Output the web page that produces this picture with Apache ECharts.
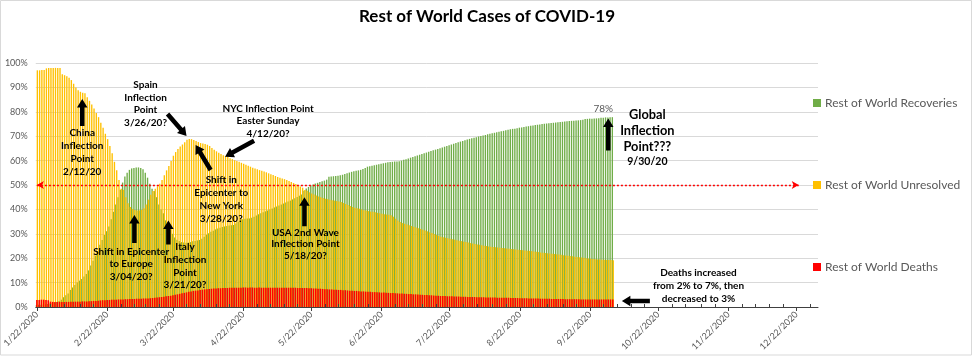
<!DOCTYPE html>
<html>
<head>
<meta charset="utf-8">
<script src="https://cdn.jsdelivr.net/npm/echarts@6/dist/echarts.min.js"></script>
<style>html,body{margin:0;padding:0;background:#fff}#c{width:974px;height:357px}</style>
</head>
<body>
<div id="c"></div>
<script>
// Daily shares (%) from 1/22/2020 to 10/2/2020, each drawn as a bar from 0
const recovered = [
 0.8,0.9,0.9,1.0,1.1,1.2,1.4,1.6,1.8,2.1,
 2.5,3.0,4.0,4.8,5.5,7.0,8.0,9.0,10.0,10.8,
 11.5,12.5,13.5,15.0,17.0,19.0,21.0,23.0,25.5,27.5,
 29.5,31.0,33.0,36.0,39.0,42.0,45.0,48.0,51.0,53.5,
 55.0,56.2,56.8,57.0,57.2,57.2,57.0,56.5,55.0,53.0,
 50.5,48.5,47.5,45.0,42.0,40.0,38.4,35.5,33.0,31.6,
 30.0,28.5,27.6,27.0,26.6,26.4,26.3,26.4,26.6,26.9,
 27.1,27.3,27.5,28.0,28.8,29.6,30.2,30.8,31.3,31.8,
 32.2,32.5,32.8,33.0,33.2,33.4,33.5,33.6,34.2,34.9,
 35.7,36.0,36.2,36.3,36.3,36.6,37.0,37.5,38.0,38.4,
 38.8,39.2,39.6,40.0,40.4,40.8,41.2,41.6,42.0,42.4,
 42.8,43.2,43.6,44.1,44.6,45.1,45.6,46.1,47.6,48.6,
 49.2,49.8,50.2,50.6,50.9,51.2,51.5,51.8,52.2,53.4,
 53.5,53.6,53.7,53.8,54.0,54.2,54.5,54.8,55.1,55.4,
 55.6,55.8,56.0,56.2,56.6,57.0,57.5,57.7,57.9,58.1,
 58.3,58.5,58.7,58.9,59.1,59.3,59.4,59.5,59.6,59.6,
 59.7,60.0,60.3,60.6,60.9,61.2,61.5,61.8,62.1,62.4,
 62.7,63.0,63.3,63.6,63.9,64.2,64.5,64.8,65.1,65.4,
 65.7,66.0,66.3,66.6,66.9,67.2,67.5,67.8,68.0,68.3,
 68.6,68.9,69.2,69.4,69.6,69.9,70.1,70.3,70.5,70.8,
 71.0,71.2,71.4,71.6,71.8,72.0,72.2,72.4,72.6,72.8,
 73.0,73.1,73.3,73.5,73.6,73.8,74.0,74.1,74.3,74.4,
 74.6,74.7,74.8,75.0,75.1,75.2,75.3,75.4,75.5,75.6,
 75.7,75.8,75.9,76.0,76.1,76.2,76.3,76.3,76.4,76.5,
 76.6,76.7,77.0,77.1,77.2,77.2,77.3,77.3,77.4,77.6,
 77.6,77.7,77.7,77.8,77.8
];
const unresolved = [
 97.0,97.0,97.1,97.1,97.8,97.9,98.0,98.0,98.0,98.0,
 97.9,95.4,95.0,94.6,94.0,93.0,91.5,90.0,88.8,88.2,
 87.8,87.6,86.0,84.5,83.0,81.4,79.5,77.8,75.5,73.5,
 71.0,68.8,66.0,63.0,59.5,56.0,52.0,48.5,48.0,45.0,
 42.5,41.0,40.2,39.8,39.6,39.6,39.8,40.5,42.0,44.0,
 46.0,47.5,48.5,49.5,50.5,52.0,54.0,56.0,57.8,59.8,
 62.0,63.5,64.8,65.8,66.6,67.5,68.5,68.9,68.8,68.4,
 68.0,67.6,67.2,67.0,66.8,66.5,66.0,65.2,64.4,63.8,
 63.2,62.7,62.2,61.9,61.6,61.0,60.6,60.2,59.8,59.5,
 59.1,58.7,58.3,57.9,57.5,57.1,56.8,56.5,56.1,55.8,
 55.5,55.2,54.8,54.4,54.1,53.7,53.3,53.0,52.7,52.4,
 52.0,51.6,51.2,50.8,50.4,49.9,49.4,48.9,48.0,47.6,
 47.0,46.5,46.1,45.7,45.3,45.0,44.7,44.4,44.2,44.0,
 43.8,43.6,43.4,43.2,43.0,42.6,42.2,41.8,41.4,41.0,
 40.7,40.5,40.3,40.0,39.7,39.5,39.3,39.1,39.0,38.8,
 38.6,38.4,38.2,38.0,37.9,37.8,37.6,37.0,36.2,35.4,
 34.8,34.4,34.1,33.8,33.5,33.2,32.9,32.6,32.3,32.0,
 31.7,31.4,31.0,30.6,30.3,29.9,29.5,29.2,28.8,28.6,
 28.4,28.2,28.0,27.8,27.6,27.4,27.2,27.0,26.8,26.6,
 26.4,26.2,26.0,25.8,25.6,25.5,25.3,25.1,25.0,24.8,
 24.7,24.6,24.5,24.4,24.3,24.2,24.1,24.0,23.9,23.8,
 23.7,23.6,23.5,23.4,23.3,23.2,23.1,23.0,22.9,22.7,
 22.6,22.5,22.3,22.2,22.1,22.0,21.9,21.8,21.7,21.6,
 21.5,21.4,21.2,21.1,21.0,20.9,20.8,20.6,20.5,20.4,
 20.3,20.2,20.0,19.9,19.8,19.7,19.6,19.5,19.5,19.4,
 19.4,19.3,19.3,19.3,19.2
];
const deaths = [
 2.9,2.9,3.0,3.0,2.9,2.8,2.2,2.1,2.1,2.1,
 2.1,2.1,2.1,2.1,2.1,2.2,2.2,2.2,2.2,2.2,
 2.3,2.3,2.3,2.4,2.4,2.5,2.5,2.6,2.7,2.8,
 2.8,2.9,2.9,3.0,3.0,3.0,3.1,3.1,3.1,3.2,
 3.2,3.3,3.3,3.3,3.4,3.4,3.4,3.5,3.5,3.5,
 3.6,3.7,3.8,3.9,4.0,4.1,4.2,4.4,4.5,4.6,
 4.8,5.0,5.2,5.4,5.6,5.8,6.0,6.2,6.4,6.6,
 6.7,6.8,7.0,7.1,7.2,7.3,7.4,7.5,7.6,7.6,
 7.7,7.7,7.8,7.8,7.8,7.9,7.9,7.9,7.9,7.9,
 7.9,8.0,8.0,7.9,8.0,8.0,7.9,7.9,8.0,7.9,
 7.9,7.9,7.9,7.9,7.9,7.9,7.9,7.9,7.9,7.9,
 7.9,7.9,7.9,7.9,7.9,7.8,7.8,7.8,7.8,7.8,
 7.7,7.7,7.6,7.6,7.5,7.5,7.4,7.3,7.3,7.2,
 7.2,7.1,7.1,7.0,7.0,6.9,6.9,6.8,6.7,6.7,
 6.6,6.6,6.5,6.4,6.4,6.3,6.3,6.2,6.1,6.1,
 6.0,6.0,5.9,5.9,5.8,5.8,5.7,5.7,5.6,5.6,
 5.5,5.5,5.4,5.4,5.3,5.3,5.2,5.2,5.1,5.0,
 5.0,4.9,4.9,4.8,4.8,4.7,4.6,4.6,4.5,4.5,
 4.5,4.4,4.4,4.4,4.3,4.3,4.3,4.2,4.2,4.2,
 4.1,4.1,4.1,4.1,4.0,4.0,4.0,4.0,3.9,3.9,
 3.9,3.9,3.9,3.8,3.8,3.8,3.8,3.8,3.8,3.7,
 3.7,3.7,3.7,3.6,3.6,3.6,3.6,3.5,3.5,3.5,
 3.5,3.5,3.4,3.4,3.4,3.4,3.4,3.3,3.3,3.3,
 3.3,3.3,3.3,3.2,3.2,3.2,3.2,3.2,3.2,3.2,
 3.1,3.1,3.1,3.1,3.1,3.1,3.1,3.1,3.1,3.1,
 3.1,3.1,3.1,3.1,3.1
];
const seriesNames = ['Rest of World Recoveries','Rest of World Unresolved','Rest of World Deaths'];
const seriesColors = ['#70AD47','#FFC000','#FF0000'];
const axisStart = [2020, 0, 22];   // 1/22/2020
const axisDayCount = 345;          // through 12/31/2020
const recoveryLabelDate = '9/28/2020';
const refLine = {value: 50, from: '1/22/2020', to: '12/23/2020'};

const categories = [];
for (let i = 0; i < axisDayCount; i++) {
  const dt = new Date(Date.UTC(axisStart[0], axisStart[1], axisStart[2] + i));
  categories.push((dt.getUTCMonth()+1) + '/' + dt.getUTCDate() + '/' + dt.getUTCFullYear());
}
const isMajor = (v) => v.split('/')[1] === '22';
const majors = [];
categories.forEach((c, i) => { if (isMajor(c)) majors.push(i); });
const minorSet = new Set();
for (let m = 0; m < majors.length; m++) {
  const a = majors[m];
  const b = m + 1 < majors.length ? majors[m+1] : a + 30.5;
  for (let k = 1; k <= 4; k++) {
    const idx = a + Math.round(k * (b - a) / 5);
    if (idx < axisDayCount) minorSet.add(idx);
  }
}

const labelIdx = categories.indexOf(recoveryLabelDate);
const recData = recovered.map((v, i) => i === labelIdx ? {
  value: v,
  label: {show: true, position: 'top', distance: 4, color: '#595959', fontSize: 10, fontFamily: 'Lato',
          formatter: (p) => Math.round(p.value) + '%'}
} : v);

const FONT = 'Lato';
const legendTops = [97, 179, 261];

const option = {
  animation: false,
  textStyle: {fontFamily: FONT},
  title: {
    text: 'Rest of World Cases of COVID-19', left: 'center', top: 8, padding: 0,
    textStyle: {fontFamily: FONT, fontWeight: 'bold', fontSize: 17, color: '#000'}
  },
  legend: seriesNames.map((n, i) => ({
    data: [n], left: 813, top: legendTops[i], padding: 0, orient: 'vertical',
    itemWidth: 8, itemHeight: 8, itemGap: 4, icon: 'rect', selectedMode: false,
    textStyle: {color: '#595959', fontSize: 12, fontFamily: FONT, padding: [0,0,0,-1]}
  })),
  grid: {left: 34, right: 156, top: 63, bottom: 50},
  xAxis: [{
    type: 'category', data: categories, boundaryGap: true,
    axisLine: {show: true, lineStyle: {color: '#404040', width: 1}},
    axisTick: {show: true, alignWithLabel: true, length: 4, interval: (i, v) => isMajor(v), lineStyle: {color: '#404040'}},
    axisLabel: {interval: (i, v) => isMajor(v), rotate: 45, color: '#595959', fontSize: 9, fontFamily: FONT, margin: 6},
    splitLine: {show: false}, z: 5
  }, {
    type: 'category', data: categories, boundaryGap: true, position: 'bottom',
    axisLine: {show: false},
    axisTick: {show: true, inside: true, alignWithLabel: true, length: 3, interval: (i) => minorSet.has(i), lineStyle: {color: '#404040'}},
    axisLabel: {show: false}, splitLine: {show: false}, z: 5
  }],
  yAxis: {
    type: 'value', min: 0, max: 100, interval: 10,
    axisLine: {show: false}, axisTick: {show: false},
    axisLabel: {formatter: '{value}%', color: '#595959', fontSize: 9, fontFamily: FONT, margin: 8},
    splitLine: {lineStyle: {color: '#d9d9d9', width: 1}}
  },
  series: [
    {name: seriesNames[0], type: 'bar', xAxisIndex: 0, data: recData, barWidth: '60%', barGap: '-33.3%',
     itemStyle: {color: seriesColors[0]}, silent: true},
    {name: seriesNames[1], type: 'bar', xAxisIndex: 0, data: unresolved, barWidth: '60%', barGap: '-33.3%',
     itemStyle: {color: seriesColors[1]}, silent: true},
    {name: seriesNames[2], type: 'bar', xAxisIndex: 1, data: deaths, barWidth: '68%',
     itemStyle: {color: seriesColors[2]}, silent: true,
     markLine: {
       silent: true, z: 10, symbol: ['arrow', 'arrow'], symbolSize: [6, 7], label: {show: false},
       itemStyle: {color: '#FF0000'},
       lineStyle: {color: '#FF0000', type: [2, 2], width: 1.4, opacity: 1},
       emphasis: {disabled: true},
       data: [[{coord: [categories.indexOf(refLine.from), refLine.value]}, {coord: [categories.indexOf(refLine.to), refLine.value]}]]
     }}
  ]
};

const chart = echarts.init(document.getElementById('c'), null, {renderer: 'canvas'});
chart.setOption(option);

// Annotations: arrow tip anchored to a data coordinate; tail and text offsets in px
const notes = [
  {tip: ['2/11/2020', 85.2], tail: [0, 27], text: 'China\nInflection\nPoint\n2/12/20', tx: 0, ty: 27.6, lh: 12.8},
  {tip: ['3/28/2020', 70.1], tail: [-19, -22], text: 'Spain\nInflection\nPoint\n3/26/20?', tx: -41, ty: -57.3, lh: 12.5},
  {tip: ['4/14/2020', 61.6], tail: [29, -16], text: 'NYC Inflection Point\nEaster Sunday\n4/12/20?', tx: 43, ty: -54.8, lh: 12.85},
  {tip: ['4/1/2020', 66.4], tail: [15, 25], text: 'Shift in\nEpicenter to\nNew York\n3/28/20?', tx: 25.7, ty: 28.6, lh: 12.8},
  {tip: ['3/5/2020', 37.7], tail: [0, 28], text: 'Shift in Epicenter\nto Europe\n3/04/20?', tx: -3.2, ty: 30.4, lh: 12.5},
  {tip: ['3/20/2020', 35.5], tail: [0, 24], text: 'Italy\nInflection\nPoint\n3/21/20?', tx: 16.6, ty: 20.5, lh: 12.6},
  {tip: ['5/19/2020', 45.0], tail: [0, 29], text: 'USA 2nd Wave\nInflection Point\n5/18/20?', tx: 1, ty: 29.8, lh: 11.4},
  {tip: ['9/30/2020', 77.3], tail: [0, 32], text: 'Global\nInflection\nPoint???', tx: 39.1, ty: -11.2, lh: 15.85, size: 12.8,
   sub: {text: '9/30/20', tx: 39.1, ty: 36.3, size: 10.5, lh: 13}},
  {tip: ['10/6/2020', 2.5], tail: [28, 0], text: 'Deaths increased\nfrom 2% to 7%, then\ndecreased to 3%', tx: 76.6, ty: -34.1, lh: 12.85}
];

function arrowPts(tail, tip, shaft, headW, headL) {
  const dx = tip[0] - tail[0], dy = tip[1] - tail[1];
  const L = Math.sqrt(dx*dx + dy*dy);
  const ux = dx / L, uy = dy / L, nx = -uy, ny = ux;
  const bx = tip[0] - ux * headL, by = tip[1] - uy * headL;
  return [
    [tail[0] + nx*shaft/2, tail[1] + ny*shaft/2],
    [bx + nx*shaft/2, by + ny*shaft/2],
    [bx + nx*headW/2, by + ny*headW/2],
    [tip[0], tip[1]],
    [bx - nx*headW/2, by - ny*headW/2],
    [bx - nx*shaft/2, by - ny*shaft/2],
    [tail[0] - nx*shaft/2, tail[1] - ny*shaft/2]
  ];
}

const graphics = [{
  type: 'rect', silent: true, z: 0,
  shape: {x: 0.5, y: 0.5, width: 971, height: 354.5},
  style: {fill: null, stroke: '#d9d9d9', lineWidth: 1}
}];
notes.forEach(n => {
  const p = chart.convertToPixel({seriesIndex: 0}, [categories.indexOf(n.tip[0]), n.tip[1]]);
  const tail = [p[0] + n.tail[0], p[1] + n.tail[1]];
  graphics.push({type: 'polygon', silent: true, z: 100, shape: {points: arrowPts(tail, p, 4.5, 10.5, 8.5)}, style: {fill: '#000'}});
  graphics.push({type: 'text', silent: true, z: 100, x: p[0] + n.tx, y: p[1] + n.ty,
    style: {text: n.text, fill: '#000', fontFamily: FONT, fontWeight: 'bold', fontSize: n.size || 10,
            lineHeight: n.lh, align: 'center', verticalAlign: 'top'}});
  if (n.sub) {
    graphics.push({type: 'text', silent: true, z: 100, x: p[0] + n.sub.tx, y: p[1] + n.sub.ty,
      style: {text: n.sub.text, fill: '#000', fontFamily: FONT, fontWeight: 'bold', fontSize: n.sub.size,
              lineHeight: n.sub.lh, align: 'center', verticalAlign: 'top'}});
  }
});
chart.setOption({graphic: graphics});
</script>
</body>
</html>
